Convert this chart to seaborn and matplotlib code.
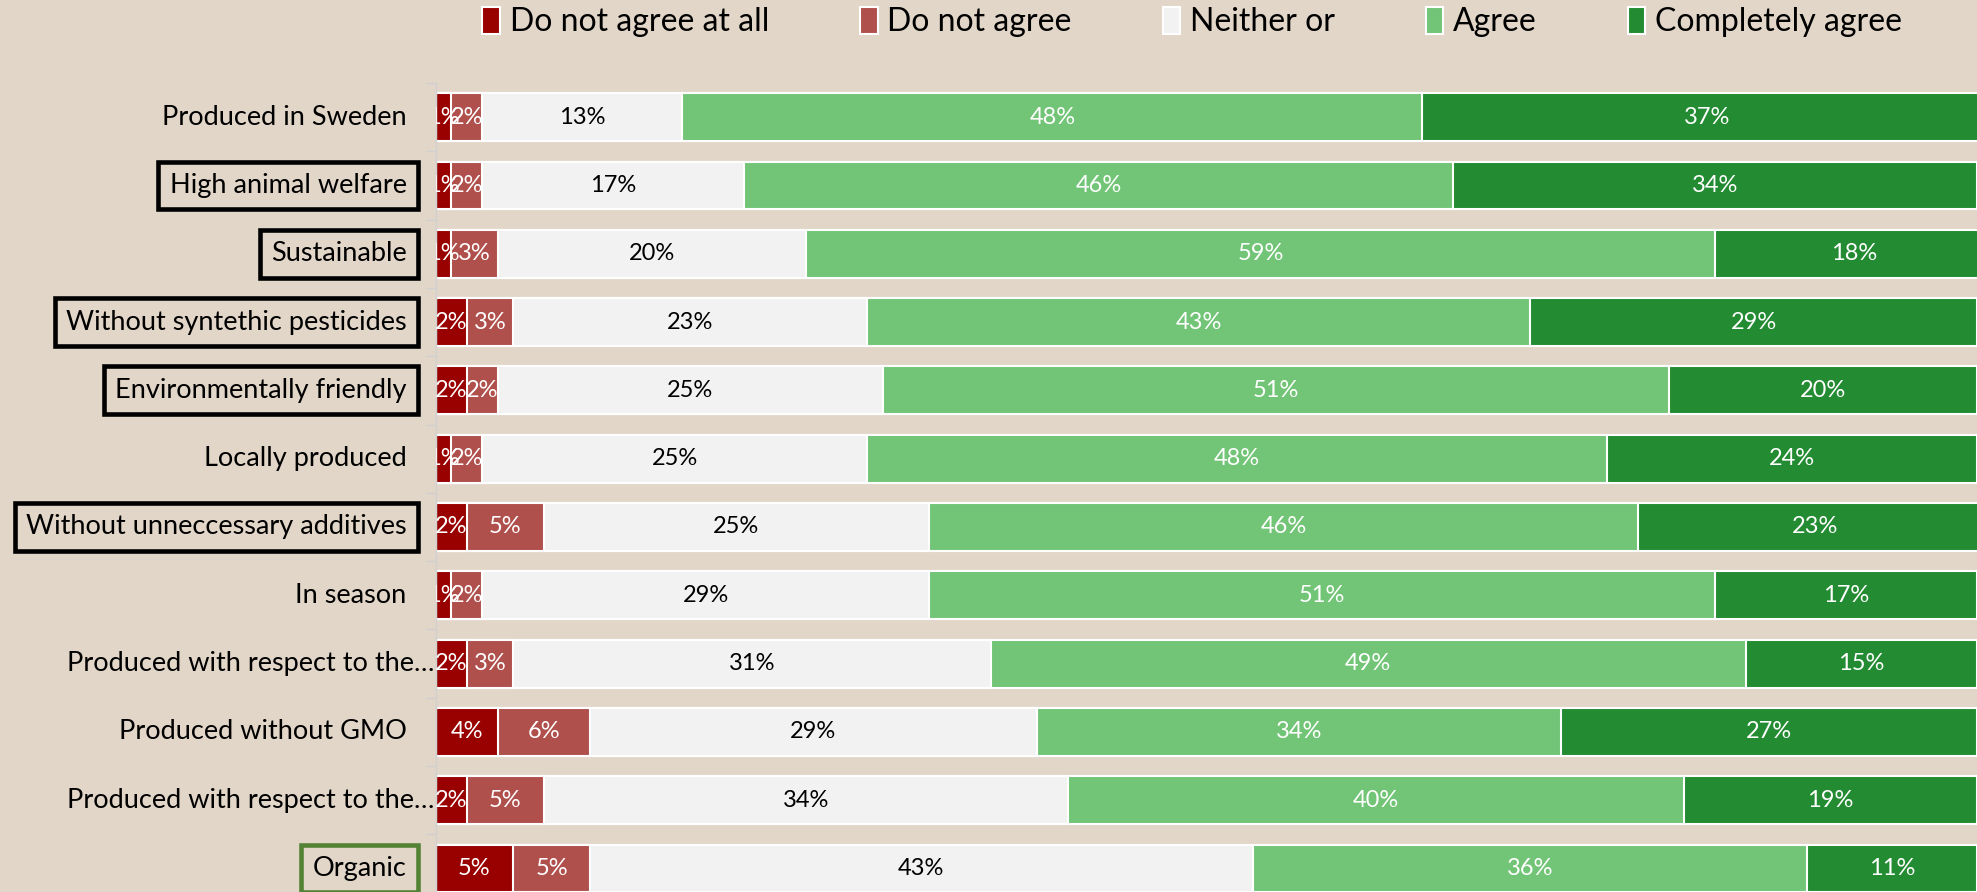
import numpy as np
import pandas as pd
import matplotlib.pyplot as plt
import matplotlib.transforms as mtransforms
from matplotlib.patches import Patch
import seaborn as sns

items = ['Produced in Sweden', 'High animal welfare', 'Sustainable',
         'Without syntethic pesticides', 'Environmentally friendly',
         'Locally produced', 'Without unneccessary additives', 'In season',
         'Produced with respect to the…', 'Produced without GMO',
         'Produced with respect to the…', 'Organic']
levels = ['Do not agree at all', 'Do not agree', 'Neither or', 'Agree', 'Completely agree']

not_at_all = [1, 1, 1, 2, 2, 1, 2, 1, 2, 4, 2, 5]
not_agree = [2, 2, 3, 3, 2, 2, 5, 2, 3, 6, 5, 5]
neither = [13, 17, 20, 23, 25, 25, 25, 29, 31, 29, 34, 43]
agree = [48, 46, 59, 43, 51, 48, 46, 51, 49, 34, 40, 36]
completely = [37, 34, 18, 29, 20, 24, 23, 17, 15, 27, 19, 11]

boxed = {'High animal welfare': 'black', 'Sustainable': 'black',
         'Without syntethic pesticides': 'black', 'Environmentally friendly': 'black',
         'Without unneccessary additives': 'black', 'Organic': '#548235'}

colors = ['#990000', '#b0504c', '#f2f2f2', '#72c476', '#238b31']
text_colors = ['white', 'white', 'black', 'white', 'white']
bg = '#e2d6c8'

df = pd.DataFrame(dict(zip(levels, [not_at_all, not_agree, neither, agree, completely])))
df['row'] = range(len(items))
cum = df[levels].cumsum(axis=1)
start = cum - df[levels]

plt.rcParams['font.family'] = ['Lato', 'DejaVu Sans']

fig = plt.figure(figsize=(19.77, 8.92), dpi=100, facecolor=bg)
ax = fig.add_axes([0.2205, -0.012, 0.7795, 0.919])
ax.set_facecolor(bg)

# stacked bars: draw cumulative totals from the outside in
for lev, col in zip(levels[::-1], colors[::-1]):
    sns.barplot(x=cum[lev], y=df['row'], orient='h', color=col, saturation=1,
                width=0.7, edgecolor='white', linewidth=1.5, errorbar=None, ax=ax)

for lev, tc in zip(levels, text_colors):
    for i in range(len(items)):
        v = df[lev][i]
        ax.text(start[lev][i] + v / 2, i, f'{v}%', ha='center', va='center',
                color=tc, fontsize=17, clip_on=True)

ax.set_xlim(0, 100)
ax.set_ylim(len(items) - 0.5, -0.5)
ax.set_xlabel('')
ax.set_ylabel('')
ax.set_xticks([])
ax.set_yticks(np.arange(-0.5, len(items), 1))
ax.set_yticklabels([])
ax.tick_params(axis='y', length=7, color='#d0d0d0', width=1)
for s in ['top', 'right', 'bottom']:
    ax.spines[s].set_visible(False)
ax.spines['left'].set_color('#d0d0d0')
ax.spines['left'].set_linewidth(1)

trans = mtransforms.blended_transform_factory(ax.transAxes, ax.transData)
for i, lab in enumerate(items):
    x = -0.001 if lab.endswith('…') else -0.019
    kw = {}
    if lab in boxed:
        kw['bbox'] = dict(boxstyle='square,pad=0.42', facecolor=bg,
                          edgecolor=boxed[lab], linewidth=3.3)
    ax.text(x, i, lab, transform=trans, ha='right', va='center',
            fontsize=19.5, color='black', **kw)

handles = [Patch(facecolor=c, edgecolor='white', linewidth=1.5) for c in colors]
fig.legend(handles, levels, loc='center', bbox_to_anchor=(0.603, 0.975), ncol=5,
           frameon=False, fontsize=23, handlelength=0.55, handleheight=0.9,
           handletextpad=0.3, columnspacing=2.85)

plt.savefig('out.png', dpi=100, facecolor=bg)
